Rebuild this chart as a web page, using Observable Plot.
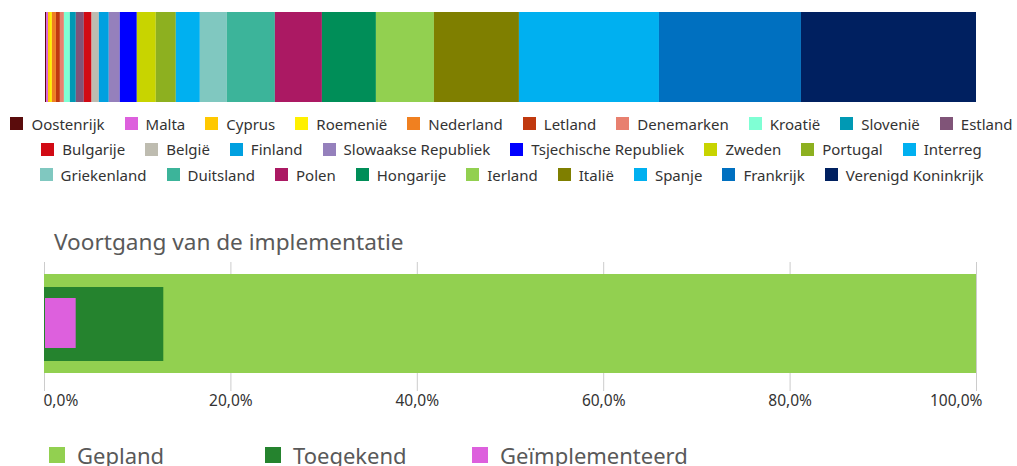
<!DOCTYPE html>
<html><head><meta charset="utf-8">
<script src="https://cdn.jsdelivr.net/npm/d3@7"></script>
<script src="https://cdn.jsdelivr.net/npm/@observablehq/plot@0.6"></script>
<style>
html,body{margin:0;padding:0}
body{width:1017px;height:466px;overflow:hidden;background:#fff;font-family:"Noto Sans",sans-serif;position:relative}
#top{position:absolute;left:0;top:0}
#legend{position:absolute;left:3px;top:111px;width:1017px}
.row{display:flex;justify-content:center;height:25.5px;align-items:center;white-space:nowrap}
.item{display:flex;align-items:center;margin:0 10px;font-size:15px;color:#333}
.sw{width:13px;height:13px;margin-right:8px;flex:none}
#title{position:absolute;left:54px;top:226px;font-size:22.6px;color:#595959;white-space:nowrap}
#bottom{position:absolute;left:0;top:258px}
#legend2{position:absolute;left:49px;top:440px;display:flex;white-space:nowrap}
.item2{display:flex;align-items:center;font-size:22px;color:#595959}
.sw2{width:16px;height:16px;margin-right:12px;flex:none}
</style>
</head><body>
<div id="top"></div>
<div id="legend"></div>
<div id="title"></div>
<div id="bottom"></div>
<div id="legend2"></div>
<script>
// ---- Data: allocation shares (%) per member state ----
const countries = ["Oostenrijk","Malta","Cyprus","Roemenië","Nederland","Letland","Denemarken","Kroatië","Slovenië","Estland",
  "Bulgarije","België","Finland","Slowaakse Republiek","Tsjechische Republiek","Zweden","Portugal","Interreg",
  "Griekenland","Duitsland","Polen","Hongarije","Ierland","Italië","Spanje","Frankrijk","Verenigd Koninkrijk"];
const shares = [0.11,0.21,0.21,0.21,0.43,0.43,0.43,0.64,0.64,0.86,
  0.83,0.78,1.07,1.18,1.83,2.04,2.15,2.58,
  2.90,5.16,5.05,5.80,6.23,9.13,15.04,15.25,18.80];
const countryColors = ["#5a0c0c","#dd60dd","#ffc800","#fff000","#f08020","#c0390f","#e8806f","#7fffd4","#0099b4","#805478",
  "#d10a14","#bebcb0","#00a0e0","#9580bc","#0000ff","#c8d400","#8db020","#00b0f0",
  "#80c8c0","#3cb49a","#ab1963","#008e58","#92d050","#7f7f00","#00b0f0","#0070c0","#002060"];
const legendRows = [10, 8, 9];

const chartTitle = "Voortgang van de implementatie";
const statuses = ["Gepland","Toegekend","Geïmplementeerd"];
const progress = [100, 12.8, 3.4];
const statusColors = ["#92d050","#25832e","#dd60dd"];
const tickValues = [0, 20, 40, 60, 80, 100];

// ---- Top stacked bar ----
const topData = countries.map((c, i) => ({country: c, share: shares[i]}));
const topPlot = Plot.plot({
  width: 1017, height: 105,
  marginLeft: 45, marginRight: 41, marginTop: 12, marginBottom: 3,
  x: {domain: [0, d3.sum(shares)], axis: null},
  color: {domain: countries.map((c,i)=>i), range: countryColors},
  marks: [
    Plot.barX(topData, {x: "share", fill: (d, i) => i, order: null})
  ]
});
document.getElementById("top").append(topPlot);

// ---- Legend (HTML) ----
const leg = document.getElementById("legend");
let k = 0;
for (const n of legendRows) {
  const row = document.createElement("div");
  row.className = "row";
  for (let j = 0; j < n; j++, k++) {
    const it = document.createElement("div");
    it.className = "item";
    const sw = document.createElement("span");
    sw.className = "sw";
    sw.style.background = countryColors[k];
    it.append(sw, document.createTextNode(countries[k]));
    row.append(it);
  }
  leg.append(row);
}

document.getElementById("title").textContent = chartTitle;

// ---- Bottom progress chart ----
const fmt = d => d.toFixed(1).replace(".", ",") + "%";
const bData = statuses.map((s, i) => ({status: s, value: progress[i]}));
const insets = [[0,0],[13,12],[24,25]];
const first = tickValues[0], last = tickValues[tickValues.length - 1];
const bottomPlot = Plot.plot({
  width: 1017, height: 162,
  marginLeft: 44, marginRight: 41, marginTop: 16, marginBottom: 47,
  style: {fontFamily: "'Noto Sans', sans-serif", fontSize: "15px", color: "#333"},
  x: {domain: [0, 100], axis: null},
  marks: [
    Plot.ruleX(tickValues, {x: d => d, stroke: "#cccccc", insetTop: -12, insetBottom: -18}),
    ...bData.map((d, i) => Plot.barX([d], {
      x1: 0, x2: "value", fill: statusColors[i],
      insetTop: insets[i][0], insetBottom: insets[i][1], insetLeft: i === 2 ? 1 : 0
    })),
    Plot.text(tickValues.filter(t => t !== first && t !== last), {x: d => d, text: fmt, frameAnchor: "bottom", dy: 32, fill: "#333", fontSize: 15.5}),
    Plot.text([first], {x: d => d, text: fmt, frameAnchor: "bottom", textAnchor: "start", dy: 32, dx: -1, fill: "#333", fontSize: 15.5}),
    Plot.text([last], {x: d => d, text: fmt, frameAnchor: "bottom", textAnchor: "end", dy: 32, dx: 6, fill: "#333", fontSize: 15.5})
  ]
});
document.getElementById("bottom").append(bottomPlot);

// ---- Bottom legend ----
const leg2 = document.getElementById("legend2");
const itemWidths = [216, 207, 220];
statuses.forEach((s, i) => {
  const it = document.createElement("div");
  it.className = "item2";
  it.style.width = itemWidths[i] + "px";
  const sw = document.createElement("span");
  sw.className = "sw2";
  sw.style.background = statusColors[i];
  it.append(sw, document.createTextNode(s));
  leg2.append(it);
});
</script>
</body></html>
